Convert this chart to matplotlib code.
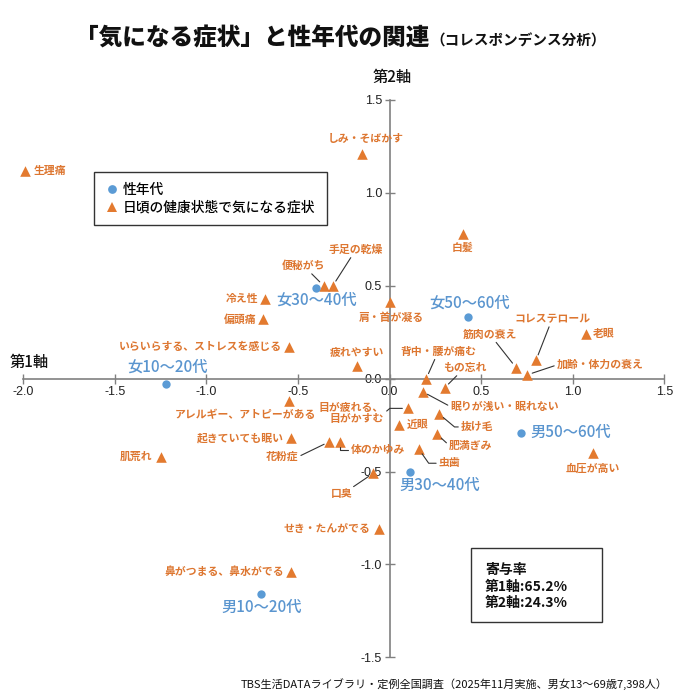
import matplotlib
matplotlib.use('Agg')
import matplotlib.pyplot as plt
from matplotlib.lines import Line2D
from matplotlib.patches import Rectangle

plt.rcParams['font.family'] = ['Noto Sans CJK JP', 'DejaVu Sans']
plt.rcParams['axes.unicode_minus'] = False

# ---------------- data ----------------
group_names = ['女10〜20代', '女30〜40代', '女50〜60代', '男10〜20代', '男30〜40代', '男50〜60代']
group_x = [-1.22, -0.40, 0.43, -0.70, 0.11, 0.72]
group_y = [-0.03, 0.49, 0.33, -1.16, -0.50, -0.29]

symptom_names = [
    '生理痛', 'しみ・そばかす', '白髪', '手足の乾燥', '便秘がち', '冷え性', '偏頭痛',
    '肩・首が凝る', 'いらいらする、ストレスを感じる', '疲れやすい', '背中・腰が痛む',
    'もの忘れ', '筋肉の衰え', 'コレステロール', '加齢・体力の衰え', '老眼',
    '眠りが浅い・眠れない', '抜け毛', '肥満ぎみ', '虫歯', '血圧が高い',
    '目が疲れる、\n目がかすむ', '近眼', '体のかゆみ', '花粉症', '口臭',
    'アレルギー、アトピーがある', '起きていても眠い', '肌荒れ', 'せき・たんがでる',
    '鼻がつまる、鼻水がでる',
]
symptom_x = [-1.99, -0.15, 0.40, -0.31, -0.36, -0.68, -0.69,
             0.00, -0.55, -0.18, 0.20,
             0.30, 0.69, 0.80, 0.75, 1.07,
             0.18, 0.27, 0.26, 0.16, 1.11,
             0.10, 0.05, -0.27, -0.33, -0.09,
             -0.55, -0.54, -1.25, -0.06,
             -0.54]
symptom_y = [1.12, 1.21, 0.78, 0.50, 0.50, 0.43, 0.32,
             0.41, 0.17, 0.07, 0.00,
             -0.05, 0.06, 0.10, 0.02, 0.24,
             -0.07, -0.19, -0.30, -0.38, -0.40,
             -0.16, -0.25, -0.34, -0.34, -0.51,
             -0.12, -0.32, -0.42, -0.81,
             -1.04]

x_ticks = [-2.0, -1.5, -1.0, -0.5, 0.0, 0.5, 1.0, 1.5]
y_ticks = [-1.5, -1.0, -0.5, 0.0, 0.5, 1.0, 1.5]

legend_labels = ['性年代', '日頃の健康状態で気になる症状']
contrib_lines = ['寄与率', '第1軸:65.2%', '第2軸:24.3%']
title_main = '「気になる症状」と性年代の関連'
title_sub = '（コレスポンデンス分析）'
source_text = 'TBS生活DATAライブラリ・定例全国調査（2025年11月実施、男女13〜69歳7,398人）'

# ---------------- label layout (pixel offsets) ----------------
group_layout = {
    '女10〜20代': (1, 17, 'center'),
    '女30〜40代': (0, -13, 'center'),
    '女50〜60代': (1, 14, 'center'),
    '男10〜20代': (0, -13, 'center'),
    '男30〜40代': (-10, -14, 'left'),
    '男50〜60代': (9, 0, 'left'),
}
symptom_layout = {
    '生理痛': (9, 0, 'left', None),
    'しみ・そばかす': (4, 15, 'center', None),
    '白髪': (0, -14, 'center', None),
    '手足の乾燥': (23, 36, 'center', 'line'),
    '便秘がち': (-20, 20, 'center', 'line'),
    '冷え性': (-7, 0, 'right', None),
    '偏頭痛': (-7, 0, 'right', None),
    '肩・首が凝る': (2, -15, 'center', None),
    'いらいらする、ストレスを感じる': (-7, 0, 'right', None),
    '疲れやすい': (0, 13, 'center', None),
    '背中・腰が痛む': (12, 27, 'center', 'line'),
    'もの忘れ': (20, 20, 'center', 'line'),
    '筋肉の衰え': (-26, 33, 'center', 'line'),
    'コレステロール': (16, 41, 'center', 'line'),
    '加齢・体力の衰え': (30, 10, 'left', 'line'),
    '老眼': (7, 0, 'left', None),
    '眠りが浅い・眠れない': (28, -15, 'left', 'line'),
    '抜け毛': (22, -13, 'left', (0, -40)),
    '肥満ぎみ': (12, -11, 'left', 'line'),
    '虫歯': (20, -14, 'left', (0, -55)),
    '血圧が高い': (0, -15, 'center', None),
    '目が疲れる、\n目がかすむ': (-24, -5, 'right', (40, 0)),
    '近眼': (8, 0, 'left', None),
    '体のかゆみ': (11, -8, 'left', (0, 90)),
    '花粉症': (-31, -15, 'right', 'line'),
    '口臭': (-31, -21, 'center', 'line'),
    'アレルギー、アトピーがある': (27, -14, 'right', None),
    '起きていても眠い': (-7, 0, 'right', None),
    '肌荒れ': (-8, 0, 'right', None),
    'せき・たんがでる': (-8, 0, 'right', None),
    '鼻がつまる、鼻水がでる': (-7, 0, 'right', None),
}

ORANGE = '#E37A2F'
ORANGE_TXT = '#DD7630'
BLUE = '#5B9BD5'
BLUE_TXT = '#5A95CF'
W, H = 680, 698

fig = plt.figure(figsize=(W / 100, H / 100), dpi=100)
ax = fig.add_axes([23.3 / W, 1 - 657.3 / H, 641 / W, 557.3 / H])
ax.set_xlim(-2.0, 1.5)
ax.set_ylim(-1.5, 1.5)

for s in ['top', 'right']:
    ax.spines[s].set_visible(False)
for s in ['left', 'bottom']:
    ax.spines[s].set_position(('data', 0))
    ax.spines[s].set_color('#808080')
    ax.spines[s].set_linewidth(1.2)

ax.set_xticks(x_ticks)
ax.set_xticklabels(['%.1f' % v for v in x_ticks])
ax.set_yticks(y_ticks)
ax.set_yticklabels(['%.1f' % v for v in y_ticks])
ax.tick_params(direction='inout', length=7, width=1.0, color='#808080',
               labelsize=9, labelcolor='#222222', pad=2)
for lab in ax.get_xticklabels() + ax.get_yticklabels():
    lab.set_family(['Liberation Sans Narrow', 'Liberation Sans', 'DejaVu Sans'])

# markers
ax.scatter(symptom_x, symptom_y, marker='^', s=58, color=ORANGE, zorder=4,
           clip_on=False, linewidths=0)
ax.scatter(group_x, group_y, marker='o', s=36, color=BLUE, zorder=4,
           clip_on=False, linewidths=0)

# symptom labels
for name, x, y in zip(symptom_names, symptom_x, symptom_y):
    dx, dy, ha, conn = symptom_layout[name]
    kw = {}
    if conn is not None:
        relx = {'left': 0.0, 'right': 1.0, 'center': 0.5}[ha]
        if conn == 'line':
            cs = 'arc3,rad=0'
        else:
            cs = 'angle,angleA=%d,angleB=%d,rad=0' % conn
        kw['arrowprops'] = dict(arrowstyle='-', color='#333333', lw=0.8,
                                shrinkA=0, shrinkB=4, connectionstyle=cs,
                                relpos=(relx, 0.5))
    ax.annotate(name, xy=(x, y), xytext=(dx, dy), textcoords='offset pixels',
                ha=ha, va='center', multialignment='right',
                fontsize=7.8, fontweight='bold', color=ORANGE_TXT,
                linespacing=1.05, zorder=5, annotation_clip=False, **kw)

# group labels
for name, x, y in zip(group_names, group_x, group_y):
    dx, dy, ha = group_layout[name]
    ax.annotate(name, xy=(x, y), xytext=(dx, dy), textcoords='offset pixels',
                ha=ha, va='center', fontsize=11, fontweight='medium',
                color=BLUE_TXT, zorder=5, annotation_clip=False)

# legend
handles = [
    Line2D([], [], marker='o', linestyle='none', color=BLUE, markersize=6.3,
           markeredgewidth=0),
    Line2D([], [], marker='^', linestyle='none', color=ORANGE, markersize=7.5,
           markeredgewidth=0),
]
leg = ax.legend(handles, legend_labels, loc='upper left',
                bbox_to_anchor=(94.3 / W, 1 - 171.7 / H),
                bbox_transform=fig.transFigure, fontsize=9.9, frameon=True,
                fancybox=False, edgecolor='#333333', framealpha=1,
                borderpad=0.8, handlelength=0.95, handletextpad=0.35,
                labelspacing=0.27, borderaxespad=0,
                prop={'size': 9.9, 'weight': 'medium'})
leg.get_frame().set_linewidth(1.0)

# axis titles
fig.text(392 / W, 1 - 77 / H, '第2軸', ha='center', va='center', fontsize=11,
         fontweight='medium', color='#111111')
fig.text(10 / W, 1 - 362 / H, '第1軸', ha='left', va='center', fontsize=11,
         fontweight='medium', color='#111111')

# title
fig.text(75 / W, 1 - 46 / H, title_main, ha='left', va='baseline',
         fontsize=17, fontweight='heavy', color='#111111')
fig.text(430 / W, 1 - 46 / H, title_sub, ha='left', va='baseline',
         fontsize=10.5, fontweight='bold', color='#111111')

# contribution box
fig.add_artist(Rectangle((471 / W, 1 - 622.3 / H), 131.3 / W, 74 / H,
                         transform=fig.transFigure, facecolor='white',
                         edgecolor='#333333', linewidth=1.0, zorder=6))
for i, line in enumerate(contrib_lines):
    fig.text(485 / W, 1 - (570 + 16.7 * i) / H, line, ha='left', va='center',
             fontsize=10, fontweight='bold', color='#111111', zorder=7)

# source
fig.text(668 / W, 1 - 684 / H, source_text, ha='right', va='center',
         fontsize=8, color='#111111')

fig.savefig('out.png', dpi=100, facecolor='white')
